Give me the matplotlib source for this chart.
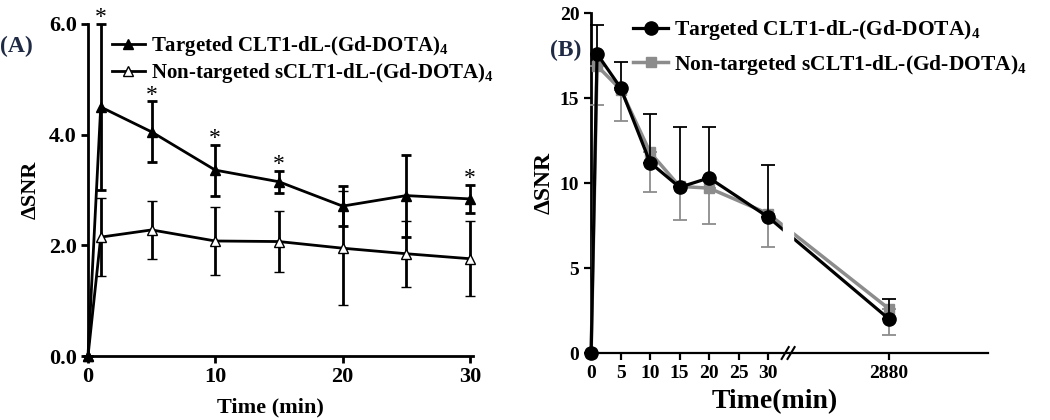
import numpy as np
import matplotlib
matplotlib.use('Agg')
import matplotlib.pyplot as plt

plt.rcParams['font.family'] = 'Liberation Serif'
plt.rcParams['font.weight'] = 'bold'
plt.rcParams['axes.labelweight'] = 'bold'
plt.rcParams['mathtext.fontset'] = 'custom'
plt.rcParams['mathtext.bf'] = 'Liberation Serif:bold'
plt.rcParams['mathtext.rm'] = 'Liberation Serif:bold'

# Panel A data
time_a = [0, 1, 5, 10, 15, 20, 25, 30]
targ_a = [0, 4.5, 4.05, 3.36, 3.15, 2.71, 2.9, 2.84]
targ_a_err = [0, 1.5, 0.55, 0.46, 0.2, 0.36, 0.74, 0.25]
non_a = [0, 2.15, 2.28, 2.08, 2.07, 1.95, 1.85, 1.76]
non_a_err = [0, 0.7, 0.52, 0.62, 0.55, 1.03, 0.6, 0.68]
star_times = [1, 5, 10, 15, 30]

# Panel B data
time_b = [0, 1, 5, 10, 15, 20, 30, 2880]
targ_b = [0, 17.6, 15.6, 11.2, 9.75, 10.3, 8.0, 2.0]
targ_b_err = [0, 1.7, 1.5, 2.85, 3.55, 3.0, 3.05, 1.15]
non_b = [0, 16.9, 15.5, 11.8, 9.8, 9.7, 8.2, 2.6]
non_b_err = [0, 2.3, 1.85, 2.3, 2.0, 2.1, 1.95, 1.55]
tick_b = [0, 5, 10, 15, 20, 25, 30, 2880]

lab_t = r'Targeted CLT1-dL-(Gd-DOTA)$_\mathbf{4}$'
lab_n = r'Non-targeted sCLT1-dL-(Gd-DOTA)$_\mathbf{4}$'


def brk(t):
    # broken axis: 0-30 linear, 2880 placed after the break
    return np.array([x if x <= 30 else 50.5 for x in np.atleast_1d(t)])


fig = plt.figure(figsize=(10.5, 4.2), dpi=100)

# ---------------- (A) ----------------
ax1 = fig.add_axes([0.0838, 0.152, 0.3667, 0.791])
en = ax1.errorbar(time_a, non_a, yerr=non_a_err, color='black', lw=2, marker='^',
                  ms=7.5, mfc='white', mec='black', mew=1, capsize=3.5, elinewidth=2,
                  capthick=2, zorder=3, clip_on=False)
et = ax1.errorbar(time_a, targ_a, yerr=targ_a_err, color='black', lw=2, marker='^',
                  ms=7.5, mfc='black', capsize=3.5, elinewidth=2, capthick=2,
                  zorder=4, clip_on=False)
for t in star_times:
    i = time_a.index(t)
    ax1.annotate('*', (t, targ_a[i] + targ_a_err[i]), xytext=(0, -3),
                 textcoords='offset points', ha='center', va='bottom',
                 fontsize=17, fontweight='normal', annotation_clip=False)
ax1.set_xlim(0, 30.25)
ax1.set_ylim(0, 6)
ax1.set_xticks([0, 10, 20, 30])
ax1.set_yticks([0, 2, 4, 6])
ax1.set_yticklabels(['0.0', '2.0', '4.0', '6.0'])
ax1.tick_params(labelsize=16, width=2, length=5, pad=3)
for lbl in ax1.get_xticklabels() + ax1.get_yticklabels():
    lbl.set_fontweight('bold')
ax1.spines['top'].set_visible(False)
ax1.spines['right'].set_visible(False)
ax1.spines['left'].set_linewidth(2)
ax1.spines['bottom'].set_linewidth(2)
ax1.set_xlabel('Time (min)', fontsize=16, fontweight='bold')
ax1.xaxis.set_label_coords(0.473, -0.125)
ax1.set_ylabel('\u0394SNR', fontsize=16, fontweight='bold', labelpad=6)
ax1.legend([et[0], en[0]], [lab_t, lab_n], loc='upper left',
           bbox_to_anchor=(0.04, 0.995), frameon=False, fontsize=15,
           handlelength=1.6, handletextpad=0.3, labelspacing=0.15,
           borderaxespad=0)
fig.text(0.0, 0.89, '(A)', fontsize=17, fontweight='bold', color='#1f2a44',
         va='center')

# ---------------- (B) ----------------
ax2 = fig.add_axes([0.563, 0.1595, 0.378, 0.8095])
xb = brk(time_b)
lo_n = np.array(non_b_err)
gn = ax2.errorbar(xb, non_b, yerr=[lo_n, np.zeros(len(lo_n))], color='#8c8c8c',
                  lw=2.5, marker='s', ms=7, capsize=5, elinewidth=1.3,
                  capthick=1.3, zorder=3, clip_on=False)
up_t = np.array(targ_b_err)
gt = ax2.errorbar(xb, targ_b, yerr=[np.zeros(len(up_t)), up_t], color='black',
                  lw=2.3, marker='o', ms=9.5, capsize=5, elinewidth=1.3,
                  capthick=1.3, zorder=4, clip_on=False)
# gap in the lines at the axis break
ax2.axvspan(32.6, 34.2, ymin=0.03, ymax=1, color='white', zorder=5)
ax2.set_xlim(0, 67.3)
ax2.set_ylim(0, 20)
ax2.set_xticks(brk(tick_b))
ax2.set_xticklabels([str(t) for t in tick_b])
ax2.set_yticks([0, 5, 10, 15, 20])
ax2.tick_params(labelsize=14, width=1.6, length=5)
for lbl in ax2.get_xticklabels() + ax2.get_yticklabels():
    lbl.set_fontweight('bold')
ax2.spines['top'].set_visible(False)
ax2.spines['right'].set_visible(False)
ax2.spines['left'].set_linewidth(2)
ax2.spines['bottom'].set_linewidth(1.6)
# break marks on x axis
for dx in (-0.5, 0.5):
    ax2.plot([33.4 + dx - 0.6, 33.4 + dx + 0.6], [-0.35, 0.35], color='black',
             lw=1.5, clip_on=False, zorder=6)
ax2.set_xlabel('Time(min)', fontsize=20, fontweight='bold')
ax2.xaxis.set_label_coords(0.463, -0.105)
ax2.set_ylabel('\u0394SNR', fontsize=17, fontweight='bold', labelpad=4)
ax2.legend([gt[0], gn[0]], [lab_t, lab_n], loc='upper left',
           bbox_to_anchor=(0.085, 1.01), frameon=False, fontsize=15.5,
           handlelength=1.6, handletextpad=0.3, labelspacing=0.5,
           borderaxespad=0)
fig.text(0.524, 0.88, '(B)', fontsize=17, fontweight='bold', color='#1f2a44',
         va='center')

fig.savefig('out.png', dpi=100)
